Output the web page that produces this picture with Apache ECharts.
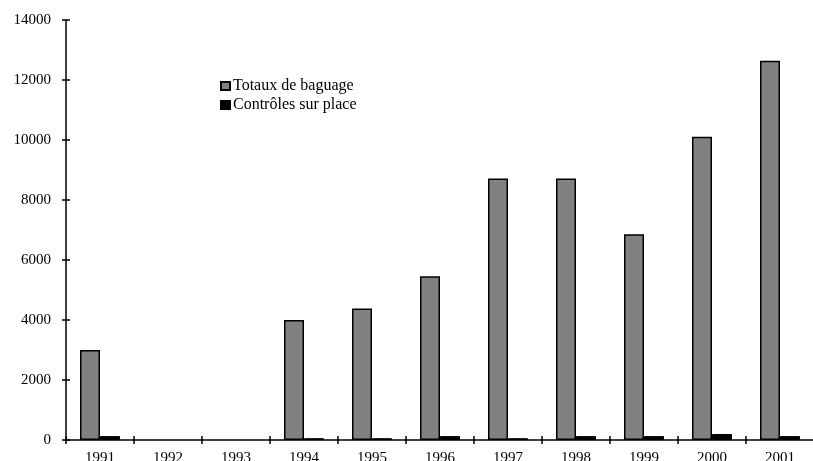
<!DOCTYPE html>
<html>
<head>
<meta charset="utf-8">
<script src="https://cdn.jsdelivr.net/npm/echarts@6/dist/echarts.min.js"></script>
<style>html,body{margin:0;padding:0;background:#fff;}#c{width:813px;height:461px;}</style>
</head>
<body>
<div id="c"></div>
<script>
var categories = ['1991','1992','1993','1994','1995','1996','1997','1998','1999','2000','2001'];
var totaux = [3000, null, null, 4000, 4380, 5460, 8720, 8720, 6860, 10110, 12640];
var controles = [130, null, null, 60, 60, 130, 60, 130, 130, 200, 130];
var seriesNames = ['Totaux de baguage', 'Contrôles sur place'];

var font = 'Liberation Serif, Times New Roman, serif';
var chart = echarts.init(document.getElementById('c'), null, {renderer: 'canvas'});
chart.setOption({
  animation: false,
  backgroundColor: '#fff',
  textStyle: {fontFamily: font},
  grid: {left: 66, top: 20, width: 748, height: 420, containLabel: false, outerBoundsMode: 'none'},
  legend: {
    left: 215, top: 73, orient: 'vertical', itemGap: 3,
    itemWidth: 9, itemHeight: 8, icon: 'rect',
    textStyle: {fontFamily: font, fontSize: 16, color: '#000', padding: [0,0,0,-2]},
    data: seriesNames
  },
  xAxis: [{
    type: 'category', data: categories, boundaryGap: true,
    axisLine: {lineStyle: {color: '#000', width: 1.5}},
    axisTick: {show: true, length: 4, alignWithLabel: false, lineStyle: {color: '#000', width: 1.5}},
    axisLabel: {color: '#000', fontSize: 15, fontFamily: font, margin: 10.5},
    splitLine: {show: false}
  }, {
    type: 'category', data: categories, position: 'bottom', boundaryGap: true,
    axisLine: {show: false},
    axisTick: {show: true, inside: true, length: 4, lineStyle: {color: '#000', width: 1.5}},
    axisLabel: {show: false}
  }],
  yAxis: [{
    type: 'value', min: 0, max: 14000, interval: 2000,
    axisLine: {show: true, lineStyle: {color: '#000', width: 1.5}},
    axisTick: {show: true, length: 4, lineStyle: {color: '#000', width: 1.5}},
    axisLabel: {color: '#000', fontSize: 15, fontFamily: font, margin: 15, formatter: function (v) { return String(v); }},
    splitLine: {show: false}
  }, {
    type: 'value', min: 0, max: 14000, interval: 2000, position: 'left',
    axisLine: {show: false},
    axisTick: {show: true, inside: true, length: 4, lineStyle: {color: '#000', width: 1.5}},
    axisLabel: {show: false}, splitLine: {show: false}
  }],
  series: [{
    name: seriesNames[0], type: 'bar', data: totaux, barWidth: 20, barGap: '0%',
    itemStyle: {color: '#808080', borderColor: '#000', borderWidth: 1.5}
  }, {
    name: seriesNames[1], type: 'bar', data: controles, barWidth: 20,
    itemStyle: {color: '#000', borderColor: '#000', borderWidth: 1}
  }]
});
</script>
</body>
</html>
